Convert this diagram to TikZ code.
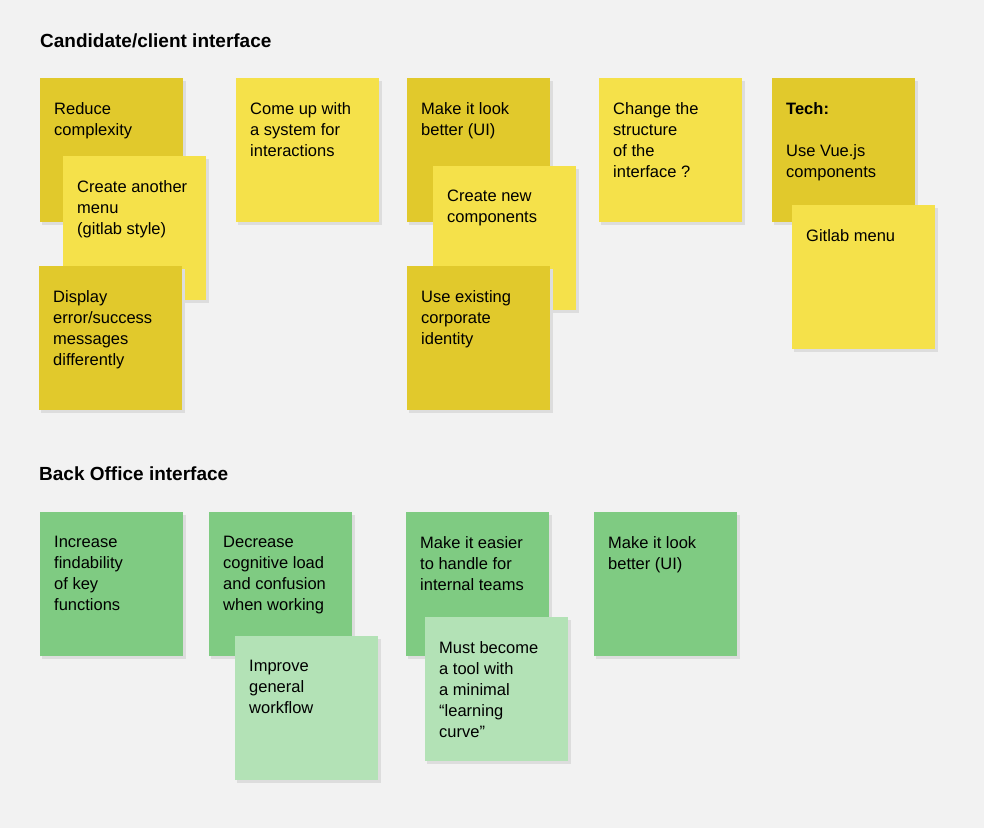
\documentclass[tikz,border=0pt]{standalone}
\usepackage{fontspec}
\setmainfont{Liberation Sans}
\definecolor{bg}{HTML}{F2F2F2}
\definecolor{dy}{HTML}{E1C92C}
\definecolor{ly}{HTML}{F5E14A}
\definecolor{dg}{HTML}{7FCB82}
\definecolor{lg}{HTML}{B3E2B6}
\definecolor{sh}{HTML}{DDDDDD}
\tikzset{x=1pt,y=-1pt,
 txt/.style={anchor=north west,inner sep=0pt,align=left,font=\fontsize{16.5}{21}\selectfont},
 hd/.style={anchor=west,inner sep=0pt,font=\fontsize{19}{22}\selectfont\bfseries}}
\newcommand{\stick}[5]{%
 \fill[sh] (#1+2,#2+3) rectangle ++(144,144);
 \fill[#3] (#1,#2) coordinate (#4) rectangle ++(143,144);
 \node[txt] (#4t) at (#1+14,#2+24) {#5};}
\begin{document}
\begin{tikzpicture}
\fill[bg] (0,0) rectangle (984,828);
\node[hd] (h1) at (40,41) {Candidate/client interface};
\node[hd] (h2) at (39,474) {Back Office interface};
\stick{40}{78}{dy}{a}{Reduce\\complexity}
\stick{63}{156}{ly}{b}{Create another\\menu\\(gitlab style)}
\stick{39}{266}{dy}{c}{Display\\error/success\\messages\\differently}
\stick{236}{78}{ly}{d}{Come up with\\a system for\\interactions}
\stick{407}{78}{dy}{e}{Make it look\\better (UI)}
\stick{433}{166}{ly}{f}{Create new\\components}
\stick{407}{266}{dy}{g}{Use existing\\corporate\\identity}
\stick{599}{78}{ly}{h}{Change the\\structure\\of the\\interface ?}
\stick{772}{78}{dy}{i}{\textbf{Tech:}\\[21pt]Use Vue.js\\components}
\stick{792}{205}{ly}{j}{Gitlab menu}
\stick{40}{512}{dg}{k}{Increase\\findability\\of key\\functions}
\stick{209}{512}{dg}{l}{Decrease\\cognitive load\\and confusion\\when working}
\stick{235}{636}{lg}{m}{Improve\\general\\workflow}
\stick{406}{512}{dg}{n}{Make it easier\\to handle for\\internal teams}
\stick{425}{617}{lg}{o}{Must become\\a tool with\\a minimal\\“learning\\curve”}
\stick{594}{512}{dg}{p}{Make it look\\better (UI)}
\end{tikzpicture}
\end{document}
